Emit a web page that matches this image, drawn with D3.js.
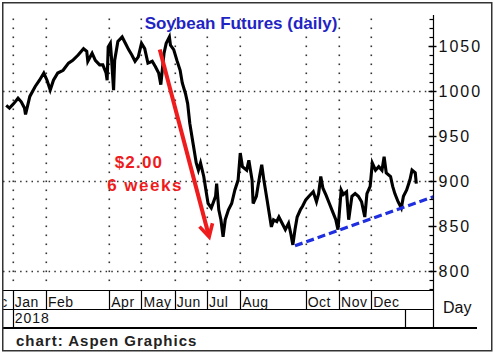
<!DOCTYPE html>
<html>
<head>
<meta charset="utf-8">
<script src="https://cdn.jsdelivr.net/npm/d3@7"></script>
<style>
body { margin: 0; background: #fff; }
text { font-family: "Liberation Sans", Arial, sans-serif; }
</style>
</head>
<body>
<script>
// daily soybean futures (cents/bu)
var dates = ["2017-12-26","2017-12-29","2018-01-02","2018-01-06","2018-01-09","2018-01-12","2018-01-13","2018-01-17","2018-01-22","2018-01-26",
"2018-01-30","2018-02-02","2018-02-05","2018-02-08","2018-02-12","2018-02-17","2018-02-22","2018-02-26","2018-03-03","2018-03-08",
"2018-03-11","2018-03-12","2018-03-16","2018-03-19","2018-03-23","2018-03-26","2018-03-29","2018-03-30","2018-03-31","2018-04-02",
"2018-04-03","2018-04-05","2018-04-06","2018-04-09","2018-04-13","2018-04-16","2018-04-19","2018-04-22","2018-04-25","2018-04-28",
"2018-05-01","2018-05-04","2018-05-07","2018-05-11","2018-05-14","2018-05-17","2018-05-19","2018-05-22","2018-05-24","2018-05-27",
"2018-05-28","2018-05-31","2018-06-03","2018-06-06","2018-06-08","2018-06-11","2018-06-13","2018-06-15","2018-06-18","2018-06-21",
"2018-06-23","2018-06-25","2018-06-28","2018-06-30","2018-07-02","2018-07-05","2018-07-09","2018-07-10","2018-07-12","2018-07-14",
"2018-07-16","2018-07-18","2018-07-21","2018-07-24","2018-07-27","2018-07-30","2018-08-01","2018-08-03","2018-08-07","2018-08-09",
"2018-08-12","2018-08-13","2018-08-16","2018-08-19","2018-08-21","2018-08-23","2018-08-26","2018-08-28","2018-08-30","2018-09-01",
"2018-09-04","2018-09-06","2018-09-09","2018-09-12","2018-09-15","2018-09-17","2018-09-19","2018-09-21","2018-09-23","2018-09-26",
"2018-09-28","2018-10-01","2018-10-04","2018-10-08","2018-10-11","2018-10-13","2018-10-15","2018-10-17","2018-10-20","2018-10-23",
"2018-10-26","2018-10-29","2018-10-31","2018-11-03","2018-11-05","2018-11-08","2018-11-10","2018-11-13","2018-11-16","2018-11-19",
"2018-11-22","2018-11-25","2018-11-27","2018-11-30","2018-12-02","2018-12-05","2018-12-08","2018-12-11","2018-12-13","2018-12-15",
"2018-12-19","2018-12-21","2018-12-23","2018-12-26","2018-12-29","2018-12-31","2019-01-03","2019-01-06","2019-01-08","2019-01-11",
"2019-01-12"];
var prices = [984,981,986,992,988,981,974,994,1005,1012,
1020,1012,1001,1012,1020,1023,1031,1034,1040,1047,
1044,1033,1042,1034,1029,1029,1020,1012,1049,1053,
1038,1001,1034,1055,1060,1053,1046,1040,1033,1038,
1053,1047,1031,1033,1027,1020,1007,1042,1053,1060,
1051,1046,1034,1023,1009,997,986,964,942,920,
912,920,905,890,875,870,883,897,868,857,
838,857,868,875,890,901,931,916,912,923,
901,875,883,905,918,901,879,864,849,857,
855,860,853,846,853,842,829,846,860,868,
872,879,883,888,877,886,905,892,884,875,
866,857,846,890,885,888,857,883,886,883,
877,860,886,894,920,912,916,912,927,909,
905,894,886,877,870,883,890,901,912,909,
897];

var monthStarts = ["2017-12-01","2018-01-01","2018-02-01","2018-04-01","2018-05-01","2018-06-01","2018-07-01","2018-08-01","2018-10-01","2018-11-01","2018-12-01"];
var monthLabels = ["Dec","Jan","Feb","Apr","May","Jun","Jul","Aug","Oct","Nov","Dec"];
var yearStarts = ["2018-01-01","2019-01-01"];
var yearLabels = ["2018",""];
var priceTicks = [800,850,900,950,1000,1050];
var gridPrices = [800,900,1000];
var trendDates = ["2018-09-21","2019-01-28"];
var trendPrices = [828,882.5];
var arrowDates = ["2018-05-18","2018-07-03"];
var arrowPrices = [1046,838];

var width = 497, height = 354;
var plotLeft = 3, plotRight = 433.5, plotTop = 15, plotBottom = 290;
var monthRowBottom = 309, yearRowBottom = 328;

var parse = d3.timeParse("%Y-%m-%d");

var x = d3.scaleTime()
    .domain([parse("2017-12-23"), parse("2019-01-28")])
    .range([plotLeft, plotRight]);

var y = d3.scaleLinear()
    .domain([780, 1080])
    .range([289, 19]);

var svg = d3.select("body").append("svg")
    .attr("width", width)
    .attr("height", height);

svg.append("defs").append("clipPath")
    .attr("id", "plotClip")
    .append("rect")
    .attr("x", plotLeft)
    .attr("y", plotTop)
    .attr("width", plotRight - plotLeft)
    .attr("height", plotBottom - plotTop);

svg.append("defs").append("clipPath")
    .attr("id", "axisClip")
    .append("rect")
    .attr("x", plotLeft + 0.5)
    .attr("y", plotBottom)
    .attr("width", plotRight - plotLeft)
    .attr("height", yearRowBottom - plotBottom);

// horizontal dotted grid
svg.selectAll(".hgrid")
    .data(gridPrices)
    .enter().append("line")
    .attr("class", "hgrid")
    .attr("x1", plotLeft)
    .attr("x2", plotRight)
    .attr("y1", function(d) { return Math.round(y(d)) + 0.5; })
    .attr("y2", function(d) { return Math.round(y(d)) + 0.5; })
    .style("stroke", "#333")
    .style("stroke-width", 1.3)
    .style("stroke-dasharray", "1.5,4.2");

// vertical dotted grid, one dot per 10 cents
var dotVals = d3.range(790, 1081, 10);
var gridMonths = monthStarts.slice(1);
gridMonths.forEach(function(m) {
    svg.selectAll(".vdot" + m)
        .data(dotVals)
        .enter().append("rect")
        .attr("x", Math.round(x(parse(m))) - 0.5)
        .attr("y", function(d) { return Math.round(y(d)) - 0.5; })
        .attr("width", 1.6)
        .attr("height", 1.6)
        .style("fill", "#333");
});

// price line
var line = d3.line()
    .x(function(d, i) { return x(parse(dates[i])); })
    .y(function(d) { return y(d); })
    .curve(d3.curveLinear);

svg.append("path")
    .datum(prices)
    .attr("clip-path", "url(#plotClip)")
    .attr("d", line)
    .style("fill", "none")
    .style("stroke", "#000")
    .style("stroke-width", 3.1)
    .style("stroke-linejoin", "miter");

// trend line
svg.append("line")
    .attr("x1", x(parse(trendDates[0])))
    .attr("y1", y(trendPrices[0]))
    .attr("x2", x(parse(trendDates[1])))
    .attr("y2", y(trendPrices[1]))
    .style("stroke", "#1f2fe0")
    .style("stroke-width", 3.2)
    .style("stroke-dasharray", "8,4");

// red arrow
var ax0 = x(parse(arrowDates[0])), ay0 = y(arrowPrices[0]);
var ax1 = x(parse(arrowDates[1])), ay1 = y(arrowPrices[1]);
var ang = Math.atan2(ay1 - ay0, ax1 - ax0);
var headLen = 14, headAng = 0.5;
svg.append("line")
    .attr("x1", ax0).attr("y1", ay0)
    .attr("x2", ax1 - 2 * Math.cos(ang)).attr("y2", ay1 - 2 * Math.sin(ang))
    .style("stroke", "#ee1c1c")
    .style("stroke-width", 4);
svg.append("path")
    .attr("d", "M" + (ax1 - headLen * Math.cos(ang - headAng)) + "," + (ay1 - headLen * Math.sin(ang - headAng))
        + "L" + ax1 + "," + ay1
        + "L" + (ax1 - headLen * Math.cos(ang + headAng)) + "," + (ay1 - headLen * Math.sin(ang + headAng)))
    .style("fill", "none")
    .style("stroke", "#ee1c1c")
    .style("stroke-width", 3.6)
    .style("stroke-linejoin", "miter");

svg.append("text")
    .attr("x", 139)
    .attr("y", 168)
    .attr("text-anchor", "middle")
    .style("font-size", "17px")
    .style("font-weight", "bold")
    .style("letter-spacing", "1.2px")
    .style("fill", "#ee1c1c")
    .text("$2.00");

svg.append("text")
    .attr("x", 145)
    .attr("y", 191)
    .attr("text-anchor", "middle")
    .style("font-size", "17px")
    .style("font-weight", "bold")
    .style("letter-spacing", "1.5px")
    .style("fill", "#ee1c1c")
    .text("6 weeks");

// title
svg.append("text")
    .attr("x", 241)
    .attr("y", 29)
    .attr("text-anchor", "middle")
    .style("font-size", "17px")
    .style("font-weight", "bold")
    .style("fill", "#1f24c4")
    .text("Soybean Futures (daily)");

// right price axis
svg.append("line")
    .attr("x1", plotRight).attr("x2", plotRight)
    .attr("y1", plotTop).attr("y2", yearRowBottom)
    .style("stroke", "#000")
    .style("stroke-width", 1.2);

svg.selectAll(".minorTick")
    .data(d3.range(780, 1081, 10))
    .enter().append("line")
    .attr("x1", plotRight - 4)
    .attr("x2", plotRight)
    .attr("y1", function(d) { return Math.round(y(d)) + 0.5; })
    .attr("y2", function(d) { return Math.round(y(d)) + 0.5; })
    .style("stroke", "#000")
    .style("stroke-width", 1.2);

svg.selectAll(".majorTick")
    .data(priceTicks)
    .enter().append("line")
    .attr("x1", plotRight - 5)
    .attr("x2", plotRight + 3)
    .attr("y1", function(d) { return Math.round(y(d)) + 0.5; })
    .attr("y2", function(d) { return Math.round(y(d)) + 0.5; })
    .style("stroke", "#000")
    .style("stroke-width", 1.4);

svg.selectAll(".priceLabel")
    .data(priceTicks)
    .enter().append("text")
    .attr("x", plotRight + 5)
    .attr("y", function(d) { return y(d) + 6; })
    .style("font-size", "16px")
    .style("letter-spacing", "2px")
    .style("fill", "#111")
    .text(function(d) { return d; });

svg.append("text")
    .attr("x", 443)
    .attr("y", 313)
    .style("font-size", "16px")
    .style("fill", "#111")
    .text("Day");

// date axis band
[plotBottom, monthRowBottom].forEach(function(yy) {
    svg.append("line")
        .attr("x1", plotLeft).attr("x2", plotRight)
        .attr("y1", yy + 0.5).attr("y2", yy + 0.5)
        .style("stroke", "#000")
        .style("stroke-width", 1.2);
});

svg.append("line")
    .attr("x1", plotLeft).attr("x2", 477)
    .attr("y1", yearRowBottom).attr("y2", yearRowBottom)
    .style("stroke", "#000")
    .style("stroke-width", 2.2);

var axisG = svg.append("g").attr("clip-path", "url(#axisClip)");

axisG.selectAll(".monthDiv")
    .data(monthStarts)
    .enter().append("line")
    .attr("x1", function(d) { return Math.round(x(parse(d))) + 0.5; })
    .attr("x2", function(d) { return Math.round(x(parse(d))) + 0.5; })
    .attr("y1", plotBottom)
    .attr("y2", monthRowBottom)
    .style("stroke", "#000")
    .style("stroke-width", 1.2);

axisG.selectAll(".monthLabel")
    .data(monthStarts)
    .enter().append("text")
    .attr("x", function(d) { return x(parse(d)) + 2; })
    .attr("y", 307)
    .style("font-size", "14px")
    .style("letter-spacing", "0.5px")
    .style("fill", "#111")
    .text(function(d, i) { return monthLabels[i]; });

axisG.selectAll(".yearDiv")
    .data(yearStarts)
    .enter().append("line")
    .attr("x1", function(d) { return Math.round(x(parse(d))) + 0.5; })
    .attr("x2", function(d) { return Math.round(x(parse(d))) + 0.5; })
    .attr("y1", monthRowBottom)
    .attr("y2", yearRowBottom)
    .style("stroke", "#000")
    .style("stroke-width", 1.2);

axisG.selectAll(".yearLabel")
    .data(yearStarts)
    .enter().append("text")
    .attr("x", function(d) { return x(parse(d)) + 2; })
    .attr("y", 323)
    .style("font-size", "14px")
    .style("letter-spacing", "1px")
    .style("fill", "#111")
    .text(function(d, i) { return yearLabels[i]; });

svg.append("text")
    .attr("x", 16)
    .attr("y", 346)
    .style("font-size", "15px")
    .style("font-weight", "bold")
    .style("letter-spacing", "1px")
    .style("fill", "#222")
    .text("chart: Aspen Graphics");

// outer frame
svg.append("rect")
    .attr("x", 2.75)
    .attr("y", 2.75)
    .attr("width", 489)
    .attr("height", 348)
    .style("fill", "none")
    .style("stroke", "#333")
    .style("stroke-width", 1.5);
</script>
</body>
</html>
